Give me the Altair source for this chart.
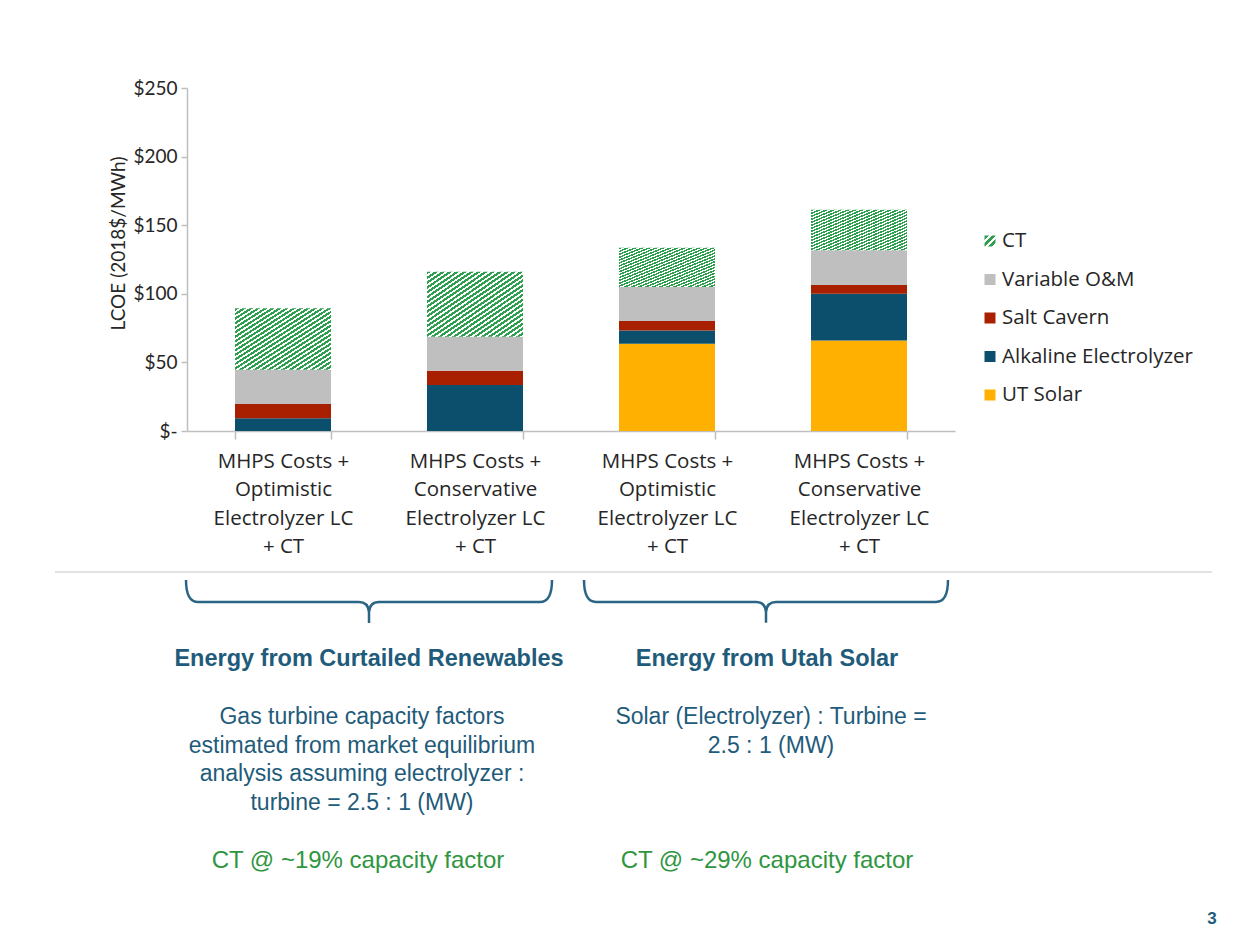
import json
import altair as alt
import pandas as pd

# ---------------- data ----------------
scenarios = ["cur_opt", "cur_con", "ut_opt", "ut_con"]
tick_labels = [
    ["MHPS Costs +", "Optimistic", "Electrolyzer LC", "+ CT"],
    ["MHPS Costs +", "Conservative", "Electrolyzer LC", "+ CT"],
    ["MHPS Costs +", "Optimistic", "Electrolyzer LC", "+ CT"],
    ["MHPS Costs +", "Conservative", "Electrolyzer LC", "+ CT"],
]
components = ["UT Solar", "Alkaline Electrolyzer", "Salt Cavern", "Variable O&M", "CT"]
ut_solar = [0.0, 0.0, 63.6, 66.0]
alkaline = [9.3, 33.6, 9.7, 34.1]
salt_cavern = [10.4, 10.3, 6.9, 6.4]
variable_om = [25.0, 24.8, 24.8, 25.3]
ct = [44.7, 47.3, 28.5, 29.5]
comp_colors = ["#FFB000", "#0B4F6C", "#A82000", "#BFBFBF", "#2E9E4F"]
y_ticks = [0, 50, 100, 150, 200, 250]
legend_order = ["CT", "Variable O&M", "Salt Cavern", "Alkaline Electrolyzer", "UT Solar"]

groups = ["Energy from Curtailed Renewables", "Energy from Utah Solar"]
group_notes = [
    ["Gas turbine capacity factors", "estimated from market equilibrium",
     "analysis assuming electrolyzer :", "turbine = 2.5 : 1 (MW)"],
    ["Solar (Electrolyzer) : Turbine =", "2.5 : 1 (MW)"],
]
group_cf = ["CT @ ~19% capacity factor", "CT @ ~29% capacity factor"]
page_number = "3"

series = [ut_solar, alkaline, salt_cavern, variable_om, ct]
rows = []
for ci, (comp, vals) in enumerate(zip(components, series)):
    for s, v in zip(scenarios, vals):
        rows.append({"scenario": s, "component": comp, "order": ci, "value": v})
df = pd.DataFrame(rows)

# ---------------- styling ----------------
W, H = 768, 343
AX = "#BFBFBF"
TXT = "#262626"
BLUE = "#1F5B7A"
GREEN = "#2F963F"
LABEL_FONT = "Open Sans"
NUM_FONT = "Lato"
NOTE_FONT = "Liberation Sans"


def hatch(n, green="#2E9E4F", frac=0.55):
    stops = []
    for k in range(n):
        a = k / n
        b = (k + frac) / n
        c = (k + 1) / n
        stops += [
            {"offset": a, "color": green},
            {"offset": b, "color": green},
            {"offset": b, "color": "#FFFFFF"},
            {"offset": c, "color": "#FFFFFF"},
        ]
    return alt.Gradient(gradient="linear", stops=stops, x1=0, y1=0, x2=1, y2=1)


label_map = {s: l for s, l in zip(scenarios, tick_labels)}
label_expr = json.dumps(label_map) + "[datum.value]"

x_enc = alt.X(
    "scenario:N",
    sort=scenarios,
    scale=alt.Scale(domain=scenarios, paddingInner=0.5, paddingOuter=0.25),
    axis=alt.Axis(
        title=None,
        labelExpr=label_expr,
        labelAngle=0,
        labelFont=LABEL_FONT,
        labelFontSize=20.5,
        labelColor=TXT,
        labelLineHeight=28.5,
        labelPadding=12,
        labelBaseline="top",
        tickBand="extent",
        tickSize=8,
        tickColor=AX,
        tickWidth=1.5,
        domainColor=AX,
        domainWidth=1.5,
    ),
)

y_enc = alt.Y(
    "y0:Q",
    scale=alt.Scale(domain=[0, 250], nice=False),
    axis=alt.Axis(
        title="LCOE (2018$/MWh)",
        values=y_ticks,
        labelExpr="datum.value == 0 ? '$-\u00a0\u00a0\u00a0\u00a0' : '$' + datum.value",
        labelFont=NUM_FONT,
        labelFontSize=19,
        labelColor=TXT,
        labelPadding=4,
        tickSize=6,
        tickColor=AX,
        tickWidth=1.5,
        domainColor=AX,
        domainWidth=1.5,
        grid=False,
        titleFont=NUM_FONT,
        titleFontSize=19,
        titleFontWeight="normal",
        titleColor=TXT,
        titlePadding=4,
        titleY=155,
        titleAlign="center",
    ),
)

base = alt.Chart(df).transform_stack(
    stack="value", groupby=["scenario"], as_=["y0", "y1"], sort=[alt.SortField("order")]
)

solid = base.transform_filter("datum.component != 'CT'").mark_bar().encode(
    x=x_enc,
    y=y_enc,
    y2="y1:Q",
    color=alt.Color(
        "component:N",
        scale=alt.Scale(domain=components, range=comp_colors),
        legend=None,
    ),
)

hatched = base.transform_filter("datum.component == 'CT'").mark_bar(
    fill=hatch(27)
).encode(x=x_enc, y=y_enc, y2="y1:Q")

layers = [solid, hatched]

# ---------------- manual legend ----------------
leg_y0 = 153
leg_step = 38.5
for i, name in enumerate(legend_order):
    ci = components.index(name)
    d = pd.DataFrame({"t": [name]})
    if name == "CT":
        sq = alt.Chart(d).mark_square(size=121, fill=hatch(3), opacity=1)
    else:
        sq = alt.Chart(d).mark_square(size=121, color=comp_colors[ci], opacity=1)
    layers.append(sq.encode(x=alt.value(803), y=alt.value(leg_y0 + i * leg_step)))
    layers.append(
        alt.Chart(d)
        .mark_text(align="left", baseline="middle", font=LABEL_FONT, fontSize=20.5, color=TXT)
        .encode(text="t:N", x=alt.value(815), y=alt.value(leg_y0 + i * leg_step))
    )

# ---------------- separator line & braces ----------------
sep = pd.DataFrame({"k": [0]})
layers.append(
    alt.Chart(sep).mark_rule(color="#D9D9D9", strokeWidth=1.5).encode(
        x=alt.value(55 - 187), x2=alt.value(1212 - 187), y=alt.value(572 - 88)
    )
)

brace_path = (
    "M -1 -0.115 Q -1 0.0055 -0.934 0.0055 L -0.055 0.0055 "
    "Q -0.005 0.0055 0 0.06 L 0 0.12 M 0 0.06 Q 0.005 0.0055 0.055 0.0055 "
    "L 0.934 0.0055 Q 1 0.0055 1 -0.115"
)
for cx, wpx in [(369, 366), (766, 364)]:
    layers.append(
        alt.Chart(sep)
        .mark_point(shape=brace_path, filled=False, stroke="#2B6585", strokeWidth=2.5,
                    size=wpx * wpx, opacity=1)
        .encode(x=alt.value(cx - 187), y=alt.value(601 - 88))
    )

# ---------------- notes ----------------
def text_layer(txt, x, y, color, size=18, weight="normal", align="center",
               font=NOTE_FONT, baseline="middle"):
    d = pd.DataFrame({"t": [txt]})
    return (
        alt.Chart(d)
        .mark_text(align=align, baseline=baseline, font=font, fontSize=size,
                   fontWeight=weight, color=color)
        .encode(text="t:N", x=alt.value(x - 187), y=alt.value(y - 88))
    )

group_x = [369, 767]
note_x = [362, 771]
for gi in range(2):
    layers.append(text_layer(groups[gi], group_x[gi], 659, BLUE, size=23.5, weight="bold"))
    for li, line in enumerate(group_notes[gi]):
        layers.append(text_layer(line, note_x[gi], 717 + li * 28.7, BLUE, size=23))
    layers.append(text_layer(group_cf[gi], [358, 767][gi], 861, GREEN, size=24))

layers.append(text_layer(page_number, 1212, 924, BLUE, size=17, weight="bold",
                         baseline="alphabetic"))

chart = (
    alt.layer(*layers)
    .properties(
        width=W,
        height=H,
        autosize="none",
        padding={"left": 179, "top": 80, "right": 288, "bottom": 498},
    )
    .configure_view(stroke=None)
)

chart.save("out.html", embed_options={"renderer": "svg", "actions": False})
